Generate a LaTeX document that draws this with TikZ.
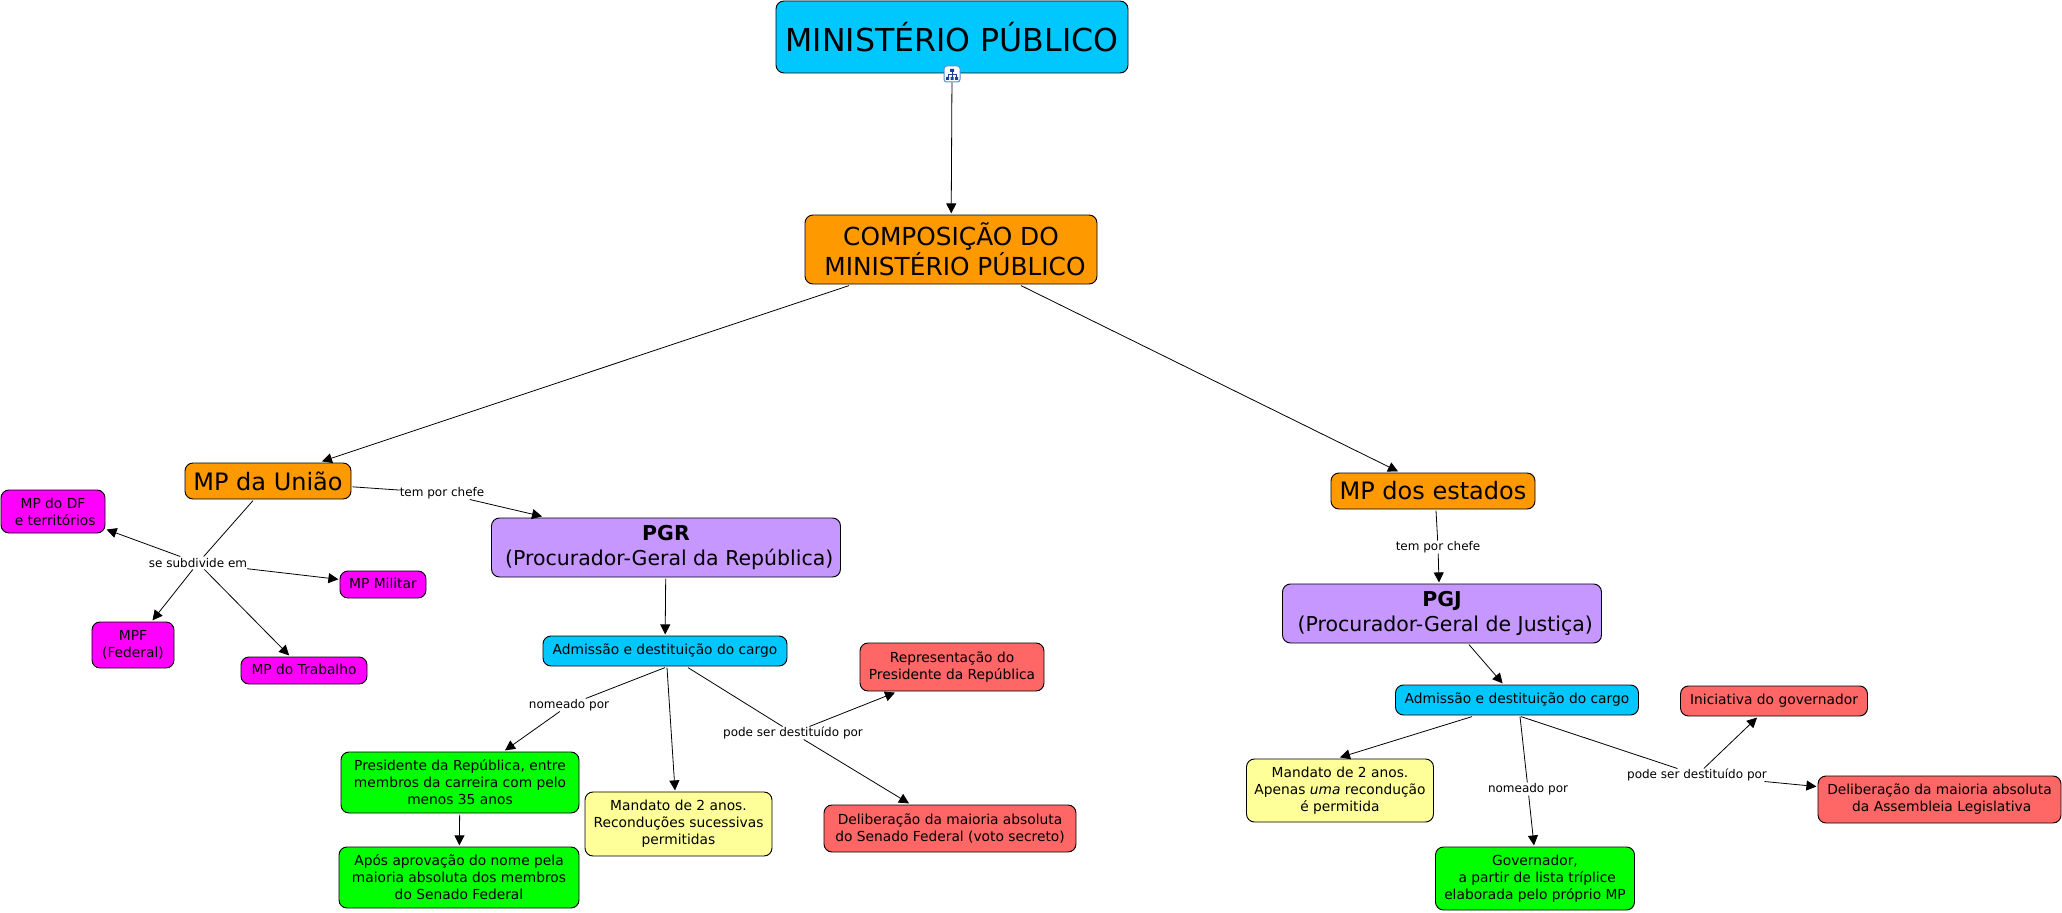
\documentclass[tikz,border=0pt]{standalone}
\usepackage{fontspec}
\setmainfont{DejaVu Sans}
\usetikzlibrary{arrows.meta}
\definecolor{cyan1}{HTML}{00C8FF}
\definecolor{orange1}{HTML}{FF9900}
\definecolor{purple1}{HTML}{C697FF}
\definecolor{magenta1}{HTML}{FF00FF}
\definecolor{red1}{HTML}{FF6666}
\definecolor{yellow1}{HTML}{FFFF99}
\definecolor{green1}{HTML}{00FF00}
\definecolor{iconblue1}{HTML}{1F3F9F}
\definecolor{iconedge1}{HTML}{4A90D9}
\def\px{*0.75pt}

\begin{document}
\begin{tikzpicture}[x=0.75pt,y=-0.75pt]
    \tikzset{boxsize/.style 2 args={minimum width=#1\px,minimum height=#2\px}}
    \tikzstyle{box} = [draw=black,line width=0.7pt,rounded corners=6pt,inner sep=0pt,outer sep=1.2pt,align=center,text=black]
    \tikzstyle{small} = [box,font=\fontsize{10.35}{12.75}\selectfont]
    \tikzstyle{oneline} = [small,text height=7.8pt,text depth=2.2pt]
    \tikzstyle{big} = [box,font=\fontsize{18}{21}\selectfont]
    \tikzstyle{chief} = [box,font=\fontsize{15.35}{18.5}\selectfont]
    \tikzstyle{link} = [fill=white,inner sep=0pt,outer sep=0pt,minimum height=9.75pt,font=\fontsize{9}{11}\selectfont]
    \tikzstyle{conn} = [every edge/.style={draw=black,line width=0.6pt,-{Triangle[length=7.5pt,width=7.5pt]}}]
    \tikzstyle{plain} = [every edge/.style={draw=black,line width=0.6pt}]

    \useasboundingbox (0,0) rectangle (2062,913);

    \node[big,fill=cyan1,boxsize={352}{72},font=\fontsize{23.7}{28}\selectfont] (mp) at (952,37) {MINISTÉRIO PÚBLICO};
    \node[big,fill=orange1,boxsize={292}{69},font=\fontsize{18.6}{22.6}\selectfont] (comp) at (951,249.5) {COMPOSIÇÃO DO\\~MINISTÉRIO PÚBLICO};
    \node[big,fill=orange1,boxsize={166}{36}]  (uniao)     at (268,481)    {MP da União};
    \node[big,fill=orange1,boxsize={204}{36}]  (estados)   at (1433,491)   {MP dos estados};

    \node[small,fill=magenta1,boxsize={104}{43}] (df)      at (53,511.5)   {MP do DF\\~e territórios};
    \node[oneline,fill=magenta1,boxsize={86}{27}]  (militar) at (383,584.5)  {MP Militar};
    \node[small,fill=magenta1,boxsize={82}{46}]  (mpf)     at (133,645)    {MPF\\(Federal)};
    \node[oneline,fill=magenta1,boxsize={126}{27}] (trab)    at (304,670.5)  {MP do Trabalho};

    \node[chief,fill=purple1,boxsize={349}{59}]  (pgr)     at (666,547.5)  {\textbf{PGR}\\~(Procurador-Geral da República)};
    \node[chief,fill=purple1,boxsize={319}{59}]  (pgj)     at (1442,613.5) {\textbf{PGJ}\\~(Procurador-Geral de Justiça)};

    \node[oneline,fill=cyan1,boxsize={244}{30}]  (adm1)    at (665,651)    {Admissão e destituição do cargo};
    \node[small,fill=red1,boxsize={184}{48}]     (rep)     at (952,667)    {Representação do\\Presidente da República};
    \node[small,fill=green1,boxsize={238}{61}]   (pres)    at (460,782.5)  {Presidente da República, entre\\membros da carreira com pelo\\menos 35 anos};
    \node[small,fill=green1,boxsize={240}{61}]   (apos)    at (459,877.5)  {Após aprovação do nome pela\\maioria absoluta dos membros\\do Senado Federal};
    \node[small,fill=yellow1,boxsize={187}{64}]  (mand1)   at (678.5,824)  {Mandato de 2 anos.\\Reconduções sucessivas\\permitidas};
    \node[small,fill=red1,boxsize={252}{47}]     (delib1)  at (950,828.5)  {Deliberação da maioria absoluta\\do Senado Federal (voto secreto)};

    \node[oneline,fill=cyan1,boxsize={243}{30}]  (adm2)    at (1517,700)   {Admissão e destituição do cargo};
    \node[oneline,fill=red1,boxsize={187}{30}]   (inic)    at (1774,701)   {Iniciativa do governador};
    \node[small,fill=yellow1,boxsize={187}{63}]  (mand2)   at (1340,790.5) {Mandato de 2 anos.\\Apenas \textit{uma} recondução\\é permitida};
    \node[small,fill=green1,boxsize={199}{63}]   (gov)     at (1535,878.5) {Governador,\\~a partir de lista tríplice\\elaborada pelo próprio MP};
    \node[small,fill=red1,boxsize={243}{47}]     (delib2)  at (1939.5,799.5) {Deliberação da maioria absoluta\\~da Assembleia Legislativa};

    \node[link] (chefe1) at (442,493)  {tem por chefe};
    \node[link] (sub)    at (198,563)  {se subdivide em};
    \node[link] (nom1)   at (569,705)  {nomeado por};
    \node[link] (pode1)  at (793,733)  {pode ser destituído por};
    \node[link] (chefe2) at (1438,547) {tem por chefe};
    \node[link] (nom2)   at (1528,789) {nomeado por};
    \node[link] (pode2)  at (1697,775) {pode ser destituído por};

    \node[draw=iconedge1,fill=white,rounded corners=2pt,line width=0.75pt,inner sep=0pt,minimum size=12pt] (icon) at (952,74) {};
    \draw[iconblue1,line width=0.5pt,shift={(icon.center)}]
        (-4,4) -- (-4,0) -- (4,0) -- (4,4)  (0,-3) -- (0,4);
    \fill[iconblue1,shift={(icon.center)}]
        (-2,-5) rectangle (2,-2)  (-6,3) rectangle (-3,6)  (-1.5,3) rectangle (1.5,6)  (3,3) rectangle (6,6);

    \path[plain] (uniao)                    edge (chefe1)
                 ([xshift=-15\px]uniao.south)   edge (sub)
                 (adm1.south)               edge (nom1)
                 ([xshift=23\px]adm1.south)     edge (pode1)
                 ([xshift=3\px]estados.south)   edge (chefe2)
                 ([xshift=3\px]adm2.south)      edge (nom2)
                 ([xshift=4\px]adm2.south)      edge (pode2);

    \path[conn]  (icon)                     edge (comp)
                 ([xshift=-102\px]comp.south)   edge ([xshift=54\px]uniao.north)
                 ([xshift=70\px]comp.south)     edge ([xshift=-35\px]estados.north)
                 (chefe1)                   edge ([xshift=-124\px]pgr.north)
                 (sub)                      edge ([yshift=-18\px]df.east)
                 (sub)                      edge (militar)
                 (sub)                      edge (mpf)
                 (sub)                      edge (trab)
                 (pgr)                      edge (adm1)
                 (nom1)                     edge ([xshift=45\px]pres.north)
                 (pres)                     edge (apos)
                 ([xshift=2\px]adm1.south)      edge ([xshift=-3.5\px]mand1.north)
                 (pode1)                    edge ([xshift=-57\px]rep.south)
                 (pode1)                    edge ([xshift=-41\px]delib1.north)
                 (chefe2)                   edge ([xshift=-3\px]pgj.north)
                 (pgj)                      edge (adm2)
                 ([xshift=-45\px]adm2.south)    edge (mand2.north)
                 (nom2)                     edge ([xshift=-1\px]gov.north)
                 (pode2)                    edge ([xshift=-17\px]inic.south)
                 (pode2)                    edge ([yshift=13\px]delib2.west);
\end{tikzpicture}
\end{document}
